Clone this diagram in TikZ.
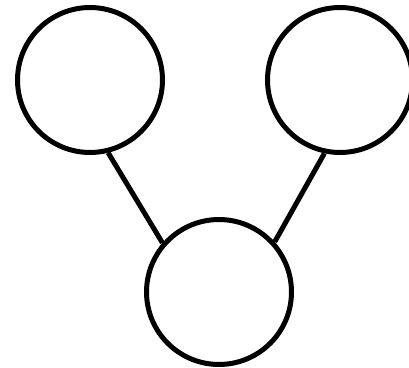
\documentclass[tikz,border=0pt]{standalone}
\usetikzlibrary{positioning}
\begin{document}
\begin{tikzpicture}[x=0.02cm,y=-0.02cm,
 vertex/.style={draw,circle,line width=0.1cm,minimum size=2.9cm,inner sep=0pt},
 link/.style={line width=0.1cm}]
\useasboundingbox (0,0) rectangle (409,368);
\node[vertex] (left) at (90,80) {};
\node[vertex] (right) at (340,80) {};
\node[vertex] (bottom) at (219,292) {};
\draw[link] (left.-76)--(bottom.139);
\draw[link] (right.-102)--(bottom.42);
\end{tikzpicture}
\end{document}
